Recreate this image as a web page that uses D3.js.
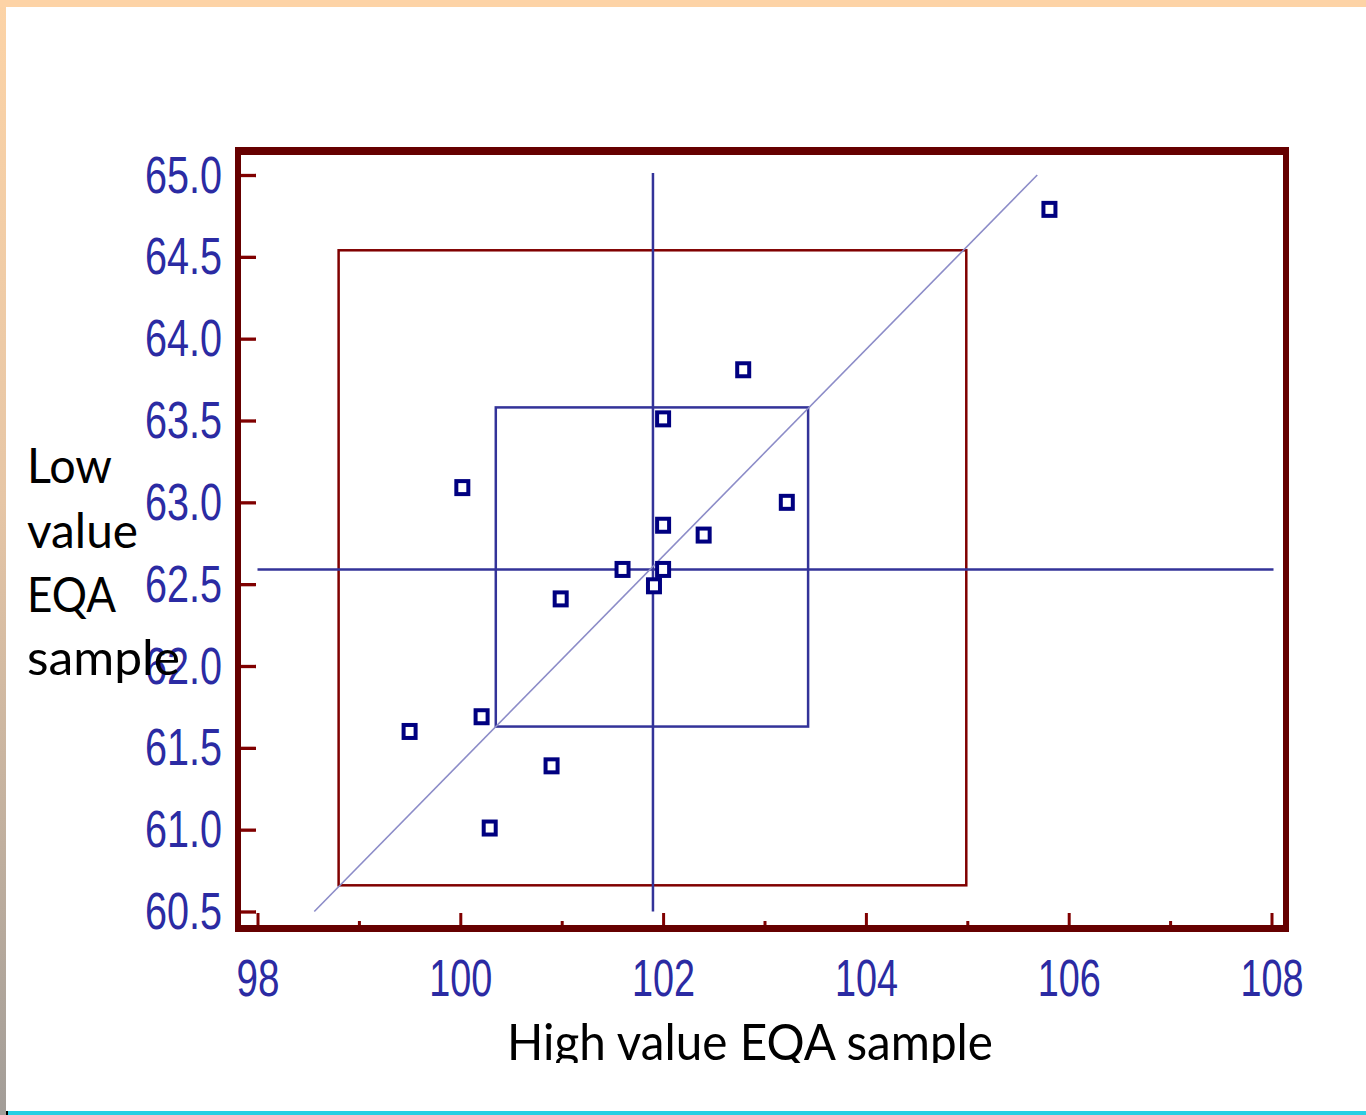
<!DOCTYPE html>
<html>
<head>
<meta charset="utf-8">
<script src="https://cdn.jsdelivr.net/npm/d3@7"></script>
<style>
  html, body { margin: 0; padding: 0; background: #ffffff; }
  svg { display: block; }
</style>
</head>
<body>
<svg id="chart" width="1366" height="1115"></svg>
<script>
// ---- data ----
const xValues = [105.81, 102.79, 102.00, 100.02, 103.22, 102.00, 102.40, 101.60, 102.00, 101.91, 100.99, 99.50, 100.21, 100.90, 100.29];
const yValues = [64.79, 63.81, 63.51, 63.09, 63.00, 62.86, 62.80, 62.59, 62.59, 62.49, 62.41, 61.60, 61.69, 61.39, 61.01];
const medianXY = [101.90, 62.59];
const sd1BoxX = [100.35, 103.43];
const sd1BoxY = [61.63, 63.58];
const sd2BoxX = [98.80, 104.99];
const sd2BoxY = [60.66, 64.54];
const diagX = [98.56, 105.69];
const diagY = [60.50, 65.00];
const xMajorTicks = [98, 100, 102, 104, 106, 108];
const xMinorTicks = [99, 101, 103, 105, 107];
const yTicks = [60.5, 61.0, 61.5, 62.0, 62.5, 63.0, 63.5, 64.0, 64.5, 65.0];
const xTitle = "High value EQA sample";
const yTitleLines = ["Low", "value", "EQA", "sample"];

const svg = d3.select("#chart");

// slide decoration
const defs = svg.append("defs");
const grad = defs.append("linearGradient").attr("id", "leftband").attr("x1", 0).attr("y1", 0).attr("x2", 0).attr("y2", 1);
grad.append("stop").attr("offset", "0%").attr("stop-color", "#fcd3a6");
grad.append("stop").attr("offset", "45%").attr("stop-color", "#e6c6a6");
grad.append("stop").attr("offset", "100%").attr("stop-color", "#a29d98");
svg.append("rect").attr("x", 0).attr("y", 0).attr("width", 6).attr("height", 1115).attr("fill", "url(#leftband)");
svg.append("rect").attr("x", 0).attr("y", 0).attr("width", 1366).attr("height", 7).attr("fill", "#fdd3a6");
svg.append("rect").attr("x", 6).attr("y", 1111).attr("width", 1360).attr("height", 4).attr("fill", "#27cfe3");
svg.append("rect").attr("x", 6).attr("y", 1111).attr("width", 2).attr("height", 4).attr("fill", "#000");

// scales
const x = d3.scaleLinear().domain([98, 108]).range([257.5, 1271.5]);
const y = d3.scaleLinear().domain([60.5, 65.0]).range([911.5, 175]);

// frame
const frameCol = "#660000";
svg.append("rect").attr("x", 235).attr("y", 147).attr("width", 1054).attr("height", 8).attr("fill", frameCol);
svg.append("rect").attr("x", 235).attr("y", 925).attr("width", 1054).attr("height", 7).attr("fill", frameCol);
svg.append("rect").attr("x", 235).attr("y", 147).attr("width", 6).attr("height", 785).attr("fill", frameCol);
svg.append("rect").attr("x", 1283).attr("y", 147).attr("width", 6).attr("height", 785).attr("fill", frameCol);

const labelCol = "#2b2ba3";
const labelFont = "'Liberation Sans', Arial, sans-serif";

// y axis
const yAxis = d3.axisLeft(y).tickValues(yTicks).tickSize(-15).tickPadding(19).tickFormat(d3.format(".1f"));
const gy = svg.append("g").attr("transform", "translate(241,0)").call(yAxis);
gy.select(".domain").remove();
gy.selectAll(".tick line").attr("stroke", "#800000").attr("stroke-width", 3.3);
gy.selectAll(".tick text")
  .attr("fill", labelCol).attr("font-family", labelFont).attr("font-size", 52)
  .attr("dy", 17).attr("text-anchor", "start").attr("x", -19 - 77)
  .attr("textLength", 77).attr("lengthAdjust", "spacingAndGlyphs");

// x axis major
const xAxis = d3.axisBottom(x).tickValues(xMajorTicks).tickSize(-12).tickFormat(d3.format("d"));
const gx = svg.append("g").attr("transform", "translate(0,925)").call(xAxis);
gx.select(".domain").remove();
gx.selectAll(".tick line").attr("stroke", "#800000").attr("stroke-width", 3);
gx.selectAll(".tick text")
  .attr("fill", labelCol).attr("font-family", labelFont).attr("font-size", 52)
  .attr("y", 71).attr("dy", 0).attr("text-anchor", "start")
  .each(function(d) {
    const w = String(d).length === 2 ? 43 : 63;
    d3.select(this).attr("x", -w / 2).attr("textLength", w).attr("lengthAdjust", "spacingAndGlyphs");
  });
// x axis minor
const xAxisMinor = d3.axisBottom(x).tickValues(xMinorTicks).tickSize(-4).tickFormat("");
const gxm = svg.append("g").attr("transform", "translate(0,925)").call(xAxisMinor);
gxm.select(".domain").remove();
gxm.selectAll(".tick line").attr("stroke", "#800000").attr("stroke-width", 3);

// 2 SD box
svg.append("rect")
  .attr("x", x(sd2BoxX[0])).attr("y", y(sd2BoxY[1]))
  .attr("width", x(sd2BoxX[1]) - x(sd2BoxX[0])).attr("height", y(sd2BoxY[0]) - y(sd2BoxY[1]))
  .attr("fill", "none").attr("stroke", "#800000").attr("stroke-width", 2.5);

// 1 SD box
svg.append("rect")
  .attr("x", x(sd1BoxX[0])).attr("y", y(sd1BoxY[1]))
  .attr("width", x(sd1BoxX[1]) - x(sd1BoxX[0])).attr("height", y(sd1BoxY[0]) - y(sd1BoxY[1]))
  .attr("fill", "none").attr("stroke", "#333399").attr("stroke-width", 2.5);

// median lines
svg.append("line").attr("x1", x(medianXY[0])).attr("x2", x(medianXY[0]))
  .attr("y1", y(65.0) - 2).attr("y2", y(60.5))
  .attr("stroke", "#333399").attr("stroke-width", 2.5);
svg.append("line").attr("x1", x(98)).attr("x2", x(108) + 2)
  .attr("y1", y(medianXY[1])).attr("y2", y(medianXY[1]))
  .attr("stroke", "#333399").attr("stroke-width", 2.5);

// diagonal
svg.append("line")
  .attr("x1", x(diagX[0])).attr("y1", y(diagY[0]))
  .attr("x2", x(diagX[1])).attr("y2", y(diagY[1]))
  .attr("stroke", "#8c8cc8").attr("stroke-width", 1.6);

// points
const pts = xValues.map((v, i) => ({ x: v, y: yValues[i] }));
svg.append("g").selectAll("rect").data(pts).join("rect")
  .attr("x", d => x(d.x) - 6).attr("y", d => y(d.y) - 6.5)
  .attr("width", 12).attr("height", 13)
  .attr("fill", "#ffffff").attr("stroke", "#000080").attr("stroke-width", 4);

// titles
const titleFont = "Lato, 'Open Sans', sans-serif";
defs.append("clipPath").attr("id", "titleclip")
  .append("rect").attr("x", 0).attr("y", 0).attr("width", 1366).attr("height", 1063);
svg.append("text").attr("clip-path", "url(#titleclip)")
  .attr("x", 507).attr("y", 1060)
  .attr("font-family", titleFont).attr("font-size", 51).attr("fill", "#000")
  .attr("textLength", 486).attr("lengthAdjust", "spacingAndGlyphs")
  .text(xTitle);

const lineWidths = [85, 111, 89, 153];
const lineBase = [483, 547.5, 611.5, 675];
svg.append("g").selectAll("text").data(yTitleLines).join("text")
  .attr("x", 27).attr("y", (d, i) => lineBase[i])
  .attr("font-family", titleFont).attr("font-size", 47.5).attr("fill", "#000")
  .attr("textLength", (d, i) => lineWidths[i]).attr("lengthAdjust", "spacingAndGlyphs")
  .text(d => d);
</script>
</body>
</html>
